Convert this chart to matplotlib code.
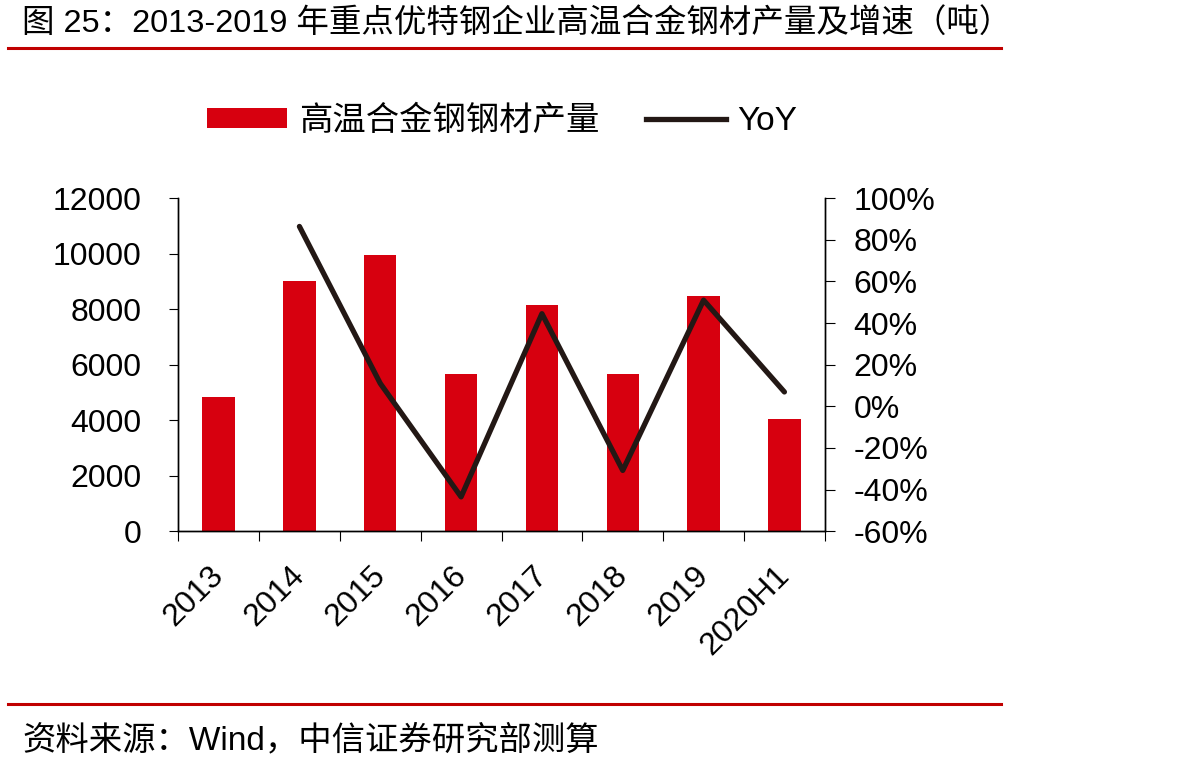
import matplotlib
matplotlib.use("Agg")
import matplotlib.pyplot as plt
import numpy as np
from matplotlib.lines import Line2D
from matplotlib.patches import Patch
from matplotlib.transforms import ScaledTranslation

plt.rcParams['font.family'] = ['Liberation Sans', 'Noto Sans CJK SC', 'DejaVu Sans']

# 数据
categories = ['2013', '2014', '2015', '2016', '2017', '2018', '2019', '2020H1']
output = [4850, 9000, 9950, 5650, 8150, 5650, 8485, 4060]
yoy = [None, 86.4, 11.0, -43.5, 44.5, -30.8, 51.0, 6.9]

bar_color = '#d7000f'
line_color = '#231815'

fig = plt.figure(figsize=(11.8, 7.71), dpi=100)
ax = fig.add_axes([0.151, 0.311, 0.548, 0.432])

x = np.arange(len(categories))
ax.bar(x, output, width=0.4, color=bar_color, zorder=2)
ax.set_xlim(-0.5, len(categories) - 0.5)
ax.set_ylim(0, 12000)
ax.set_yticks(np.arange(0, 12001, 2000))
ax.tick_params(axis='y', labelsize=23, length=6.5, direction='out', pad=20)

# x 轴刻度在类别之间
ax.set_xticks(np.arange(-0.5, len(categories), 1.0), minor=False)
ax.set_xticklabels([])
ax.set_xticks(x, minor=True)
ax.set_xticklabels(categories, minor=True, rotation=45, ha='right',
                   rotation_mode='anchor', fontsize=23)
ax.tick_params(axis='x', which='major', length=7.5, direction='out')
ax.tick_params(axis='x', which='minor', length=0, pad=21)
shift = ScaledTranslation(-0.10, 0, fig.dpi_scale_trans)
for lab in ax.get_xticklabels(minor=True):
    lab.set_transform(lab.get_transform() + shift)

ax2 = ax.twinx()
xs = [i for i, v in enumerate(yoy) if v is not None]
ys = [v for v in yoy if v is not None]
ax2.plot(xs, ys, color=line_color, lw=3.8, solid_capstyle='round', zorder=3)
ax2.set_ylim(-60, 100)
ax2.set_yticks(np.arange(-60, 101, 20))
ax2.set_yticklabels([f'{t}%' for t in range(-60, 101, 20)])
ax2.tick_params(axis='y', labelsize=23, length=7.5, direction='out', pad=13)

for a in (ax, ax2):
    a.spines['top'].set_visible(False)
    for s in ('left', 'right', 'bottom'):
        a.spines[s].set_linewidth(1.0)

handles = [Patch(facecolor=bar_color, edgecolor='none'),
           Line2D([0], [0], color=line_color, lw=3.8)]
fig.legend(handles, ['高温合金钢钢材产量', 'YoY'], loc='center left',
           bbox_to_anchor=(0.150, 0.843), ncol=2, frameon=False,
           fontsize=24, handlelength=2.4, handleheight=0.55,
           columnspacing=1.4, handletextpad=0.35)

# 标题和来源
fig.text(0.019, 0.970, '图 25：2013-2019 年重点优特钢企业高温合金钢材产量及增速（吨）',
         fontsize=23.4, va='center', ha='left')
fig.add_artist(Line2D([0.007, 0.848], [0.938, 0.938], color='#c00000', lw=2.2))
fig.add_artist(Line2D([0.007, 0.848], [0.087, 0.087], color='#c00000', lw=2.2))
fig.text(0.019, 0.040, '资料来源：Wind，中信证券研究部测算', fontsize=24,
         va='center', ha='left')

fig.savefig('out.png', dpi=100)
